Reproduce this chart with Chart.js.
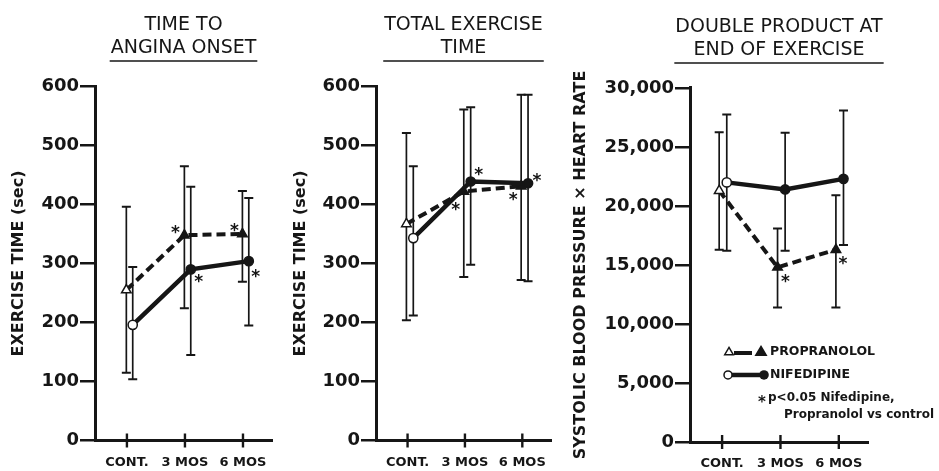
<!DOCTYPE html>
<html><head><meta charset="utf-8">
<script src="https://cdn.jsdelivr.net/npm/chart.js@4.4.0/dist/chart.umd.min.js"></script>
<style>
html,body{margin:0;padding:0;background:#fff;}
#wrap{position:relative;width:939px;height:471px;overflow:hidden;background:#fff;}
canvas{position:absolute;top:0;}
</style></head><body>
<div id="wrap">
<canvas id="c1" width="285" height="471" style="left:0px"></canvas>
<canvas id="c2" width="280" height="471" style="left:285px"></canvas>
<canvas id="c3" width="374" height="471" style="left:565px"></canvas>
</div>
<script>
// ---------- DATA ----------
const categories = ['CONT.', '3 MOS', '6 MOS'];

// Time to angina onset (sec)
const anginaPropMean = [255, 348, 350];
const anginaPropHigh = [396, 465, 423];
const anginaPropLow  = [115, 224, 269];
const anginaNifMean  = [196, 290, 304];
const anginaNifHigh  = [294, 430, 411];
const anginaNifLow   = [104, 145, 195];
const anginaPropSig  = [false, true, true];
const anginaNifSig   = [false, true, true];

// Total exercise time (sec)
const totalPropMean = [367, 422, 431];
const totalPropHigh = [521, 561, 586];
const totalPropLow  = [204, 277, 272];
const totalNifMean  = [343, 439, 436];
const totalNifHigh  = [465, 565, 586];
const totalNifLow   = [212, 298, 270];
const totalPropSig  = [false, true, true];
const totalNifSig   = [false, true, true];

// Double product at end of exercise
const dpPropMean = [21300, 14800, 16300];
const dpPropHigh = [26250, 18100, 20900];
const dpPropLow  = [16300, 11400, 11400];
const dpNifMean  = [22000, 21400, 22300];
const dpNifHigh  = [27750, 26200, 28100];
const dpNifLow   = [16200, 16200, 16700];
const dpPropSig  = [false, true, true];
const dpNifSig   = [false, false, false];

const timeTicks = [0, 100, 200, 300, 400, 500, 600];
const timeTickLabels = ['0', '100', '200', '300', '400', '500', '600'];
const dpTicks = [0, 5000, 10000, 15000, 20000, 25000, 30000];
const dpTickLabels = ['0', '5,000', '10,000', '15,000', '20,000', '25,000', '30,000'];

const seriesNames = ['PROPRANOLOL', 'NIFEDIPINE'];
const noteLines = ['p<0.05 Nifedipine,', 'Propranolol vs control'];

// ---------- STYLE ----------
const INK = '#161616';
const FONT = 'DejaVu Sans';

// asterisk offsets (px) from each point
const anginaPropStars = [null, [-9, -7], [-8, -8]];
const anginaNifStars  = [null, [8, 8], [7, 11]];
const totalPropStars  = [null, [-8, 14], [-8, 9]];
const totalNifStars   = [null, [8, -11], [9, -7]];
const dpPropStars     = [null, [8, 10], [7, 10]];
const dpNifStars      = [null, null, null];

// ---------- PLUGINS ----------
const widenTitle = {
  id: 'widenTitle',
  afterLayout(chart) {
    const t = chart.titleBlock;
    if (!t) return;
    t.left -= 40; t.right += 40; t.width += 80;
  }
};

const errorBars = {
  id: 'errorBars',
  beforeDatasetsDraw(chart) {
    const {ctx, scales: {x, y}} = chart;
    ctx.save();
    ctx.strokeStyle = INK;
    chart.data.datasets.forEach(ds => {
      ds.data.forEach((p, i) => {
        const px = x.getPixelForValue(p.x);
        const hi = y.getPixelForValue(ds.errHigh[i]);
        const lo = y.getPixelForValue(ds.errLow[i]);
        ctx.lineWidth = 1.7;
        ctx.beginPath(); ctx.moveTo(px, hi); ctx.lineTo(px, lo); ctx.stroke();
        ctx.lineWidth = 2;
        ctx.beginPath();
        ctx.moveTo(px - 4.5, hi); ctx.lineTo(px + 4.5, hi);
        ctx.moveTo(px - 4.5, lo); ctx.lineTo(px + 4.5, lo);
        ctx.stroke();
      });
    });
    ctx.restore();
  }
};

const stars = {
  id: 'stars',
  afterDatasetsDraw(chart) {
    const {ctx, scales: {x, y}} = chart;
    ctx.save();
    ctx.fillStyle = INK;
    const size = 17;
    ctx.font = 'bold ' + size + 'px ' + FONT;
    ctx.textAlign = 'center';
    ctx.textBaseline = 'alphabetic';
    chart.data.datasets.forEach(ds => {
      ds.data.forEach((p, i) => {
        if (!ds.sig[i] || !ds.stars[i]) return;
        const px = x.getPixelForValue(p.x) + ds.stars[i][0];
        const py = y.getPixelForValue(p.y) + ds.stars[i][1];
        ctx.fillText('*', px, py + size * 0.56);
      });
    });
    ctx.restore();
  }
};

const axisDecor = {
  id: 'axisDecor',
  afterDraw(chart) {
    const {ctx, scales: {x}, chartArea} = chart;
    ctx.save();
    ctx.strokeStyle = INK;
    ctx.lineWidth = 2.4;
    categories.forEach((c, i) => {
      const px = x.getPixelForValue(i);
      ctx.beginPath();
      ctx.moveTo(px, chartArea.bottom - 7);
      ctx.lineTo(px, chartArea.bottom + 7);
      ctx.stroke();
    });
    // title underline
    const t = chart.titleBlock;
    if (t) {
      const o = chart.options.plugins.title;
      const fs = o.font.size, lh = fs * o.font.lineHeight;
      ctx.font = fs + 'px ' + FONT;
      const lines = o.text;
      const w = Math.max(...lines.map(s => ctx.measureText(s).width));
      const cx = t.left + t.width / 2;
      const yy = t.top + o.padding.top + lines.length * lh + 1.5;
      ctx.lineWidth = 1.6;
      ctx.beginPath();
      ctx.moveTo(cx - w / 2 - 1, yy);
      ctx.lineTo(cx + w / 2 + 1, yy);
      ctx.stroke();
    }
    ctx.restore();
  }
};

const legendNote = {
  id: 'legendNote',
  afterDraw(chart) {
    const {ctx, chartArea: {left: L, top: T}} = chart;
    ctx.save();
    ctx.strokeStyle = INK;
    ctx.fillStyle = INK;
    const y1 = T + 264, y2 = T + 287, y3 = T + 310, y4 = T + 327;
    const tri = (cx, cy, r, fill) => {
      ctx.beginPath();
      ctx.moveTo(cx, cy - r);
      ctx.lineTo(cx + r * 0.95, cy + r * 0.6);
      ctx.lineTo(cx - r * 0.95, cy + r * 0.6);
      ctx.closePath();
      if (fill) ctx.fill();
      ctx.lineWidth = 1.5; ctx.stroke();
    };
    ctx.lineWidth = 4;
    ctx.beginPath(); ctx.moveTo(L + 44, y1 + 1); ctx.lineTo(L + 62, y1 + 1); ctx.stroke();
    ctx.fillStyle = '#fff'; tri(L + 39, y1, 4.5, true); ctx.fillStyle = INK;
    tri(L + 71, y1, 5.5, true);
    ctx.lineWidth = 4.5;
    ctx.beginPath(); ctx.moveTo(L + 42, y2); ctx.lineTo(L + 70, y2); ctx.stroke();
    ctx.lineWidth = 1.5;
    ctx.fillStyle = '#fff';
    ctx.beginPath(); ctx.arc(L + 38, y2, 4, 0, Math.PI * 2); ctx.fill(); ctx.stroke();
    ctx.fillStyle = INK;
    ctx.beginPath(); ctx.arc(L + 74, y2, 4.8, 0, Math.PI * 2); ctx.fill();
    ctx.font = 'bold 12.5px ' + FONT;
    ctx.textAlign = 'left';
    ctx.textBaseline = 'middle';
    ctx.fillText(seriesNames[0], L + 80, y1);
    ctx.fillText(seriesNames[1], L + 80, y2);
    ctx.font = 'bold 15px ' + FONT;
    ctx.textBaseline = 'alphabetic';
    ctx.fillText('*', L + 68, y3 + 9);
    ctx.font = 'bold 12px ' + FONT;
    ctx.textBaseline = 'middle';
    ctx.fillText(noteLines[0], L + 78, y3);
    ctx.fillText(noteLines[1], L + 94, y4);
    ctx.restore();
  }
};

// ---------- BUILD ----------
function makeChart(id, cfg) {
  const mk = (name, mean, hi, lo, sig, st, off, isProp) => ({
    label: name,
    data: mean.map((v, i) => ({x: i + off, y: v})),
    errHigh: hi, errLow: lo, sig: sig, stars: st,
    borderColor: INK,
    borderWidth: isProp ? 4 : 4.5,
    borderDash: isProp ? [9, 5] : [],
    borderCapStyle: 'butt',
    pointStyle: isProp ? 'triangle' : 'circle',
    pointRadius: isProp ? 5.5 : 4.6,
    pointBorderWidth: 1.5,
    pointBorderColor: INK,
    pointBackgroundColor: categories.map((c, i) => i === 0 ? '#fff' : INK),
    tension: 0, fill: false
  });
  const plugins = [widenTitle, errorBars, stars, axisDecor];
  if (cfg.legend) plugins.push(legendNote);
  return new Chart(document.getElementById(id), {
    type: 'line',
    data: {
      datasets: [
        mk(seriesNames[1], cfg.nif[0], cfg.nif[1], cfg.nif[2], cfg.nif[3], cfg.nif[4], cfg.nifOff, false),
        mk(seriesNames[0], cfg.prop[0], cfg.prop[1], cfg.prop[2], cfg.prop[3], cfg.prop[4], cfg.propOff, true)
      ]
    },
    options: {
      responsive: false, animation: false, devicePixelRatio: 1,
      layout: {padding: {left: 0, right: cfg.rightPad, top: 0, bottom: 0}},
      plugins: {
        legend: {display: false},
        tooltip: {enabled: false},
        title: {
          display: true, fullSize: false, text: cfg.title, color: INK,
          font: {family: FONT, size: 19, weight: 'normal', lineHeight: 1.21},
          padding: {top: cfg.titleTop, bottom: cfg.titleBottom}
        }
      },
      scales: {
        x: {
          type: 'linear', min: -0.55, max: 2.5,
          grid: {display: false},
          border: {display: true, color: INK, width: 3},
          afterBuildTicks: s => { s.ticks = categories.map((c, i) => ({value: i})); },
          ticks: {
            callback: v => categories[v], color: INK, padding: 6,
            font: {family: FONT, size: 13, weight: 'bold'},
            maxRotation: 0, autoSkip: false
          },
          afterFit: s => { s.height = cfg.xHeight; }
        },
        y: {
          min: 0, max: cfg.yTicks[cfg.yTicks.length - 1],
          afterBuildTicks: s => { s.ticks = cfg.yTicks.map(v => ({value: v})); },
          grid: {drawOnChartArea: false, drawTicks: true, tickLength: 15, color: INK, lineWidth: 2.5},
          border: {display: true, color: INK, width: 3},
          ticks: {
            callback: v => cfg.yLabels[cfg.yTicks.indexOf(v)], color: INK, padding: 1,
            font: {family: FONT, size: 18, weight: 'bold'}
          },
          title: {
            display: true, text: cfg.yTitle, color: INK,
            font: {family: FONT, size: 16, weight: 'bold'},
            padding: {top: cfg.yTitlePad, bottom: 0}
          },
          afterFit: s => { s.width = cfg.yWidth; }
        }
      }
    },
    plugins: plugins
  });
}

makeChart('c1', {
  title: ['TIME TO', 'ANGINA ONSET'],
  yTitle: 'EXERCISE TIME (sec)',
  yTicks: timeTicks, yLabels: timeTickLabels,
  prop: [anginaPropMean, anginaPropHigh, anginaPropLow, anginaPropSig, anginaPropStars],
  nif: [anginaNifMean, anginaNifHigh, anginaNifLow, anginaNifSig, anginaNifStars],
  propOff: -0.01, nifOff: 0.1,
  yWidth: 95, rightPad: 13, titleTop: 13.5, titleBottom: 27, xHeight: 30.5, yTitlePad: 9.4
});
makeChart('c2', {
  title: ['TOTAL EXERCISE', 'TIME'],
  yTitle: 'EXERCISE TIME (sec)',
  yTicks: timeTicks, yLabels: timeTickLabels,
  prop: [totalPropMean, totalPropHigh, totalPropLow, totalPropSig, totalPropStars],
  nif: [totalNifMean, totalNifHigh, totalNifLow, totalNifSig, totalNifStars],
  propOff: -0.02, nifOff: 0.1,
  yWidth: 91, rightPad: 14, titleTop: 13.5, titleBottom: 27, xHeight: 30.5, yTitlePad: 6.4
});
makeChart('c3', {
  title: ['DOUBLE PRODUCT AT', 'END OF EXERCISE'],
  yTitle: 'SYSTOLIC BLOOD PRESSURE \u00d7 HEART RATE',
  yTicks: dpTicks, yLabels: dpTickLabels,
  prop: [dpPropMean, dpPropHigh, dpPropLow, dpPropSig, dpPropStars],
  nif: [dpNifMean, dpNifHigh, dpNifLow, dpNifSig, dpNifStars],
  propOff: -0.05, nifOff: 0.08,
  yWidth: 125, rightPad: 71, titleTop: 15.5, titleBottom: 26.5, xHeight: 29, yTitlePad: 6.4,
  legend: true
});
</script>
</body></html>
